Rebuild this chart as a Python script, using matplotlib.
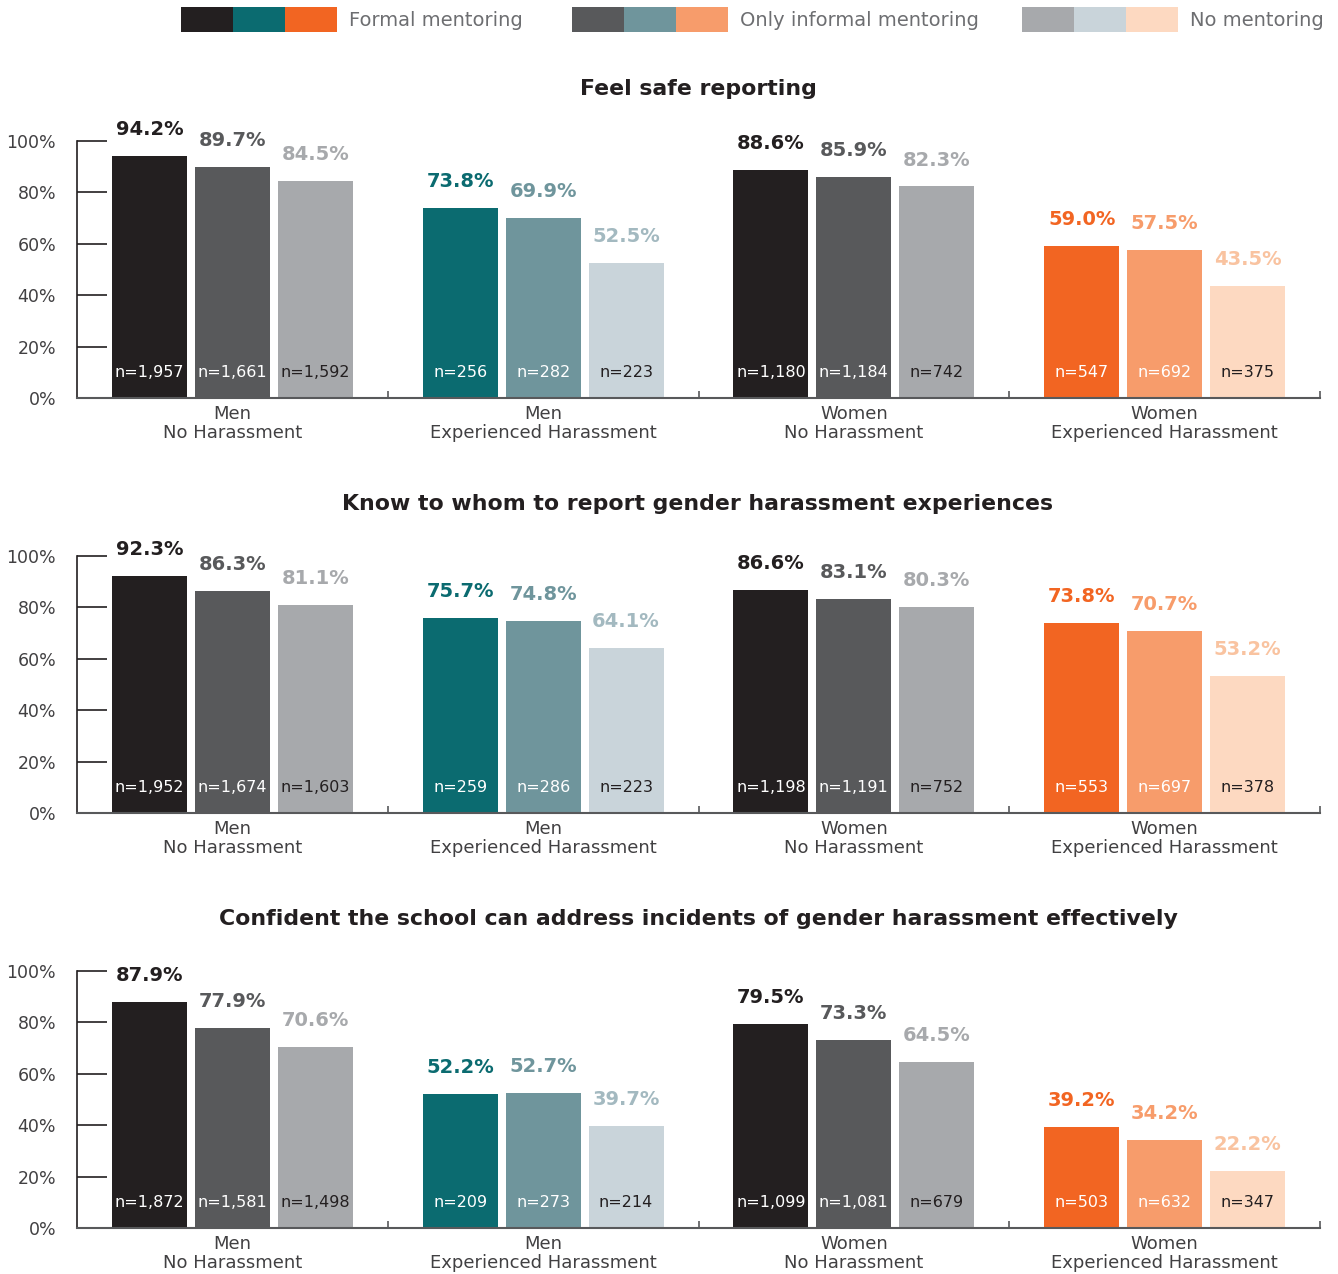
import matplotlib.pyplot as plt
from matplotlib.patches import Rectangle

plt.rcParams['font.family'] = ['DejaVu Sans']

groups = ["Men\nNo Harassment", "Men\nExperienced Harassment",
          "Women\nNo Harassment", "Women\nExperienced Harassment"]
titles = ["Feel safe reporting",
          "Know to whom to report gender harassment experiences",
          "Confident the school can address incidents of gender harassment effectively"]
series = ["Formal mentoring", "Only informal mentoring", "No mentoring"]

# percent per panel: rows = group, cols = formal / informal / none
pct_safe = [[94.2, 89.7, 84.5], [73.8, 69.9, 52.5], [88.6, 85.9, 82.3], [59.0, 57.5, 43.5]]
pct_know = [[92.3, 86.3, 81.1], [75.7, 74.8, 64.1], [86.6, 83.1, 80.3], [73.8, 70.7, 53.2]]
pct_conf = [[87.9, 77.9, 70.6], [52.2, 52.7, 39.7], [79.5, 73.3, 64.5], [39.2, 34.2, 22.2]]

n_safe = [["1,957", "1,661", "1,592"], ["256", "282", "223"], ["1,180", "1,184", "742"], ["547", "692", "375"]]
n_know = [["1,952", "1,674", "1,603"], ["259", "286", "223"], ["1,198", "1,191", "752"], ["553", "697", "378"]]
n_conf = [["1,872", "1,581", "1,498"], ["209", "273", "214"], ["1,099", "1,081", "679"], ["503", "632", "347"]]

panels = [(pct_safe, n_safe), (pct_know, n_know), (pct_conf, n_conf)]

# bar colours: group palette (men/no harass = greys, men/exp = teals, women/no = greys, women/exp = oranges)
grey = ["#231f20", "#58595b", "#a7a9ac"]
teal = ["#0b6b70", "#6f959c", "#c9d4da"]
orange = ["#f26522", "#f79c6b", "#fdd9c1"]
palettes = [grey, teal, grey, orange]
label_cols = [["#231f20", "#58595b", "#a7a9ac"],
              ["#0b6b70", "#6f959c", "#a3b9c0"],
              ["#231f20", "#58595b", "#a7a9ac"],
              ["#f26522", "#f79c6b", "#f9c3a0"]]
n_cols = ["white", "white", "#231f20"]

W, H = 1338, 1274
fig = plt.figure(figsize=(W / 100, H / 100), dpi=100)

x0, x1 = 77, 1320
zero_y = [398, 813, 1228]
span = 257
pitch = 83 / 311
bw = 75 / 311
text_grey = "#414042"

for p, (pct, ns) in enumerate(panels):
    ax = fig.add_axes([x0 / W, 1 - zero_y[p] / H, (x1 - x0) / W, span / H])
    for g in range(4):
        for k in range(3):
            xc = g + (k - 1) * pitch
            v = pct[g][k]
            ax.bar(xc, v, width=bw, color=palettes[g][k], linewidth=0)
            ax.text(xc, v + 10.3, f"{v:.1f}%", ha="center", va="center",
                    fontsize=14, fontweight="bold", color=label_cols[g][k])
            ax.text(xc, 10, f"n={ns[g][k]}", ha="center", va="center",
                    fontsize=11.5, color=n_cols[k])
    ax.set_xlim(-0.5, 3.5)
    ax.set_ylim(0, 100)
    ax.set_yticks(range(0, 101, 20))
    ax.set_yticklabels([f"{t}%" for t in range(0, 101, 20)])
    ax.tick_params(axis="y", direction="in", length=21.6, width=1.2,
                   color="#231f20", pad=15, labelsize=12.5, labelcolor=text_grey)
    ax.set_xticks(range(4))
    ax.set_xticklabels(groups)
    ax.tick_params(axis="x", length=0, pad=5, labelsize=13, labelcolor=text_grey)
    ax.set_xticks([0.5, 1.5, 2.5, 3.5], minor=True)
    ax.tick_params(axis="x", which="minor", direction="in", length=5,
                   width=1.2, color="#58595b")
    for t in ax.get_xticklabels():
        t.set_linespacing(1.1)
    for s in ["top", "right"]:
        ax.spines[s].set_visible(False)
    ax.spines["left"].set_bounds(0, 100)
    ax.spines["left"].set_color("#231f20")
    ax.spines["left"].set_linewidth(1.2)
    ax.spines["bottom"].set_color("#58595b")
    ax.spines["bottom"].set_linewidth(1.5)
    ax.patch.set_alpha(0)
    fig.text(698 / W, 1 - (zero_y[p] - 309) / H, titles[p], ha="center",
             va="center", fontsize=15.8, fontweight="bold", color="#231f20")

# legend swatches along the top
legend_x = [181, 572, 1022]
legend_sets = [[grey[0], teal[0], orange[0]],
               [grey[1], teal[1], orange[1]],
               [grey[2], teal[2], orange[2]]]
for lx, cols, name in zip(legend_x, legend_sets, series):
    for j, c in enumerate(cols):
        fig.patches.append(Rectangle(((lx + 52 * j) / W, 1 - 32 / H), 52 / W, 25 / H,
                                     transform=fig.transFigure, color=c, lw=0))
    fig.text((lx + 168) / W, 1 - 20 / H, name, ha="left", va="center",
             fontsize=14, color="#6d6e71")

fig.savefig("out.png", dpi=100)
